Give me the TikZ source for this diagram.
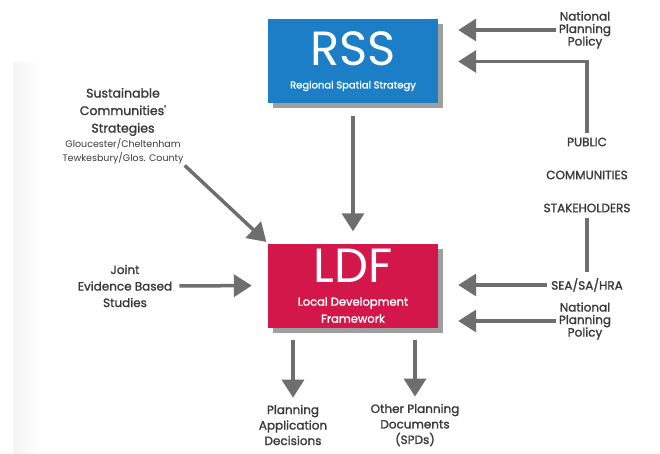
\documentclass[tikz,border=0pt]{standalone}
\usepackage{fontspec}
\setmainfont{Poppins}
\newfontfamily\lblfont{Poppins}[FakeBold=1.5]
\usetikzlibrary{arrows.meta,shadows,positioning}

\definecolor{rssblue}{HTML}{1B7EC6}
\definecolor{ldfred}{HTML}{D4174A}
\definecolor{arrgray}{HTML}{6E6E6E}
\definecolor{txtgray}{HTML}{3A3A3A}

\tikzset{
  flow/.style={draw=arrgray, line width=3.5pt, -{Triangle[length=18pt,width=22pt]}},
  link/.style={draw=arrgray, line width=3.5pt},
  lbl/.style={align=center, text=txtgray, inner sep=1pt, font=\lblfont\fontsize{12}{12.5}\selectfont},
  box/.style={minimum width=170pt, minimum height=84pt, inner sep=0pt,
    drop shadow={shadow xshift=5pt, shadow yshift=-5pt, fill=gray!75, opacity=1}},
  boxtitle/.style={text=white, inner sep=0pt, font=\fontsize{48}{48}\selectfont},
  boxsub/.style={text=white, align=center, inner sep=0pt, font=\lblfont\fontsize{10}{17}\selectfont}
}

\begin{document}
\begin{tikzpicture}[x=1pt,y=-1pt]
  \useasboundingbox (0,0) rectangle (660,454);
  \shade[left color=gray!9, right color=white] (13,63) rectangle (40,454);

  % the two main boxes
  \node[box, fill=rssblue] (rss) at (353,61.5) {};
  \node[boxtitle] (rsstitle) at (353,49) {RSS};
  \node[boxsub] (rsssub) at (353,86) {Regional Spatial Strategy};
  \node[box, fill=ldfred] (ldf) at (353,285.5) {};
  \node[boxtitle] (ldftitle) at (353,266) {LDF};
  \node[boxsub, font=\lblfont\fontsize{11.5}{17}\selectfont] (ldfsub) at (353,310) {Local Development\\Framework};

  % right hand side
  \node[lbl] (npp1) at (585,30) {National\\Planning\\Policy};
  \node[lbl] (public) at (587,142) {PUBLIC};
  \node[lbl] (comm) at (587,175) {COMMUNITIES};
  \node[lbl] (stake) at (587,208) {STAKEHOLDERS};
  \node[lbl] (sea) at (587,285) {SEA/SA/HRA};
  \node[lbl] (npp2) at (585,321) {National\\Planning\\Policy};

  % left hand side
  \node[lbl, font=\lblfont\fontsize{12.5}{17.5}\selectfont] (sust) at (123,112) {Sustainable\\Communities'\\Strategies};
  \node[lbl, font=\fontsize{9.5}{14.5}\selectfont, below=0pt of sust] (sustsub) {Gloucester/Cheltenham\\Tewkesbury/Glos. County};
  \node[lbl, font=\lblfont\fontsize{12}{16.5}\selectfont] (joint) at (125,286) {Joint\\Evidence Based\\Studies};

  % outputs
  \node[lbl, font=\lblfont\fontsize{12}{15.5}\selectfont] (pad) at (293,425) {Planning\\Application\\Decisions};
  \node[lbl, font=\lblfont\fontsize{12}{15.5}\selectfont] (opd) at (415,425) {Other Planning\\Documents\\(SPDs)};

  % arrows
  \draw[flow, shorten <=12pt, shorten >=12pt] (rss) -- (ldf);
  \draw[flow, shorten <=2pt, shorten >=20pt] (npp1.west) -- (npp1.west -| rss.east);
  \draw[flow, shorten <=4pt, shorten >=20pt] (public.north) |- (rss.east);
  \draw[link, shorten <=5pt, shorten >=5pt] (stake.south) -- (sea.north);
  \draw[flow, shorten <=3pt, shorten >=20pt] (sea.west) -- (sea.west -| ldf.east);
  \draw[flow, shorten <=2pt, shorten >=20pt] (npp2.west) -- (npp2.west -| ldf.east);
  \draw[flow, shorten >=2pt] (sustsub.south east) -- (ldf.north west);
  \draw[flow, shorten <=6pt, shorten >=16pt] (joint.east) -- (ldf.west);
  \draw[flow, shorten <=12pt, shorten >=6pt] (ldf.south -| pad.north) -- (pad.north);
  \draw[flow, shorten <=12pt, shorten >=6pt] (ldf.south -| opd.north) -- (opd.north);
\end{tikzpicture}
\end{document}
